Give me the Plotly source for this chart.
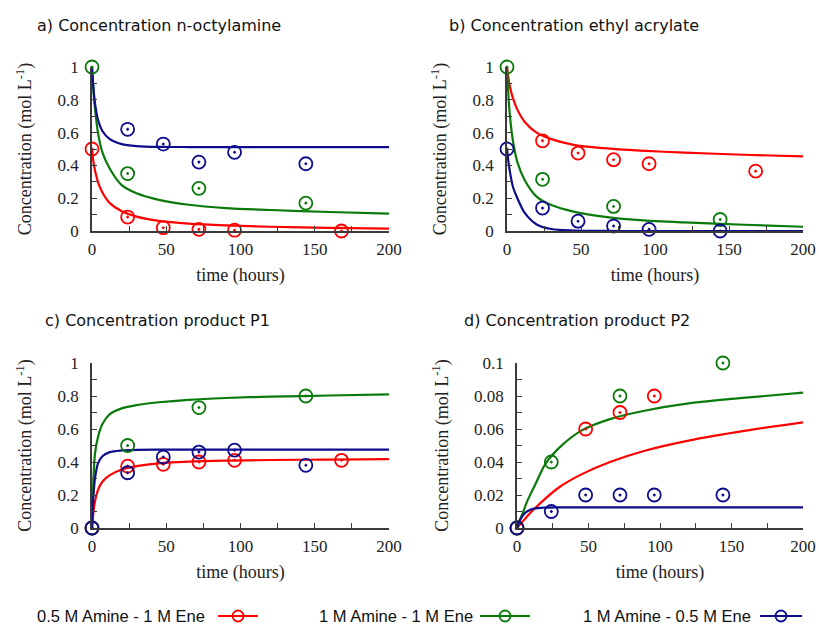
import plotly.graph_objects as go

# ---------------- data ----------------
SERIES = ["0.5 M Amine - 1 M Ene", "1 M Amine - 1 M Ene", "1 M Amine - 0.5 M Ene"]
COLORS = ["#ff0000", "#0a7a0a", "#0c0c8c"]

# fitted-curve sample times (hours)
T_FIT = [0, 1, 2, 4, 7, 12, 20, 30, 45, 65, 90, 120, 160, 200]

# a) n-octylamine
A_RED_T = [0, 24, 48, 72, 96, 168]
A_RED = [0.5, 0.085, 0.02, 0.01, 0.005, 0.0]
A_GREEN_T = [0, 24, 72, 144]
A_GREEN = [1.0, 0.35, 0.26, 0.17]
A_BLUE_T = [24, 48, 72, 96, 144]
A_BLUE = [0.62, 0.53, 0.42, 0.48, 0.41]
A_RED_FIT = [0.5, 0.42, 0.37, 0.30, 0.235, 0.17, 0.12, 0.088, 0.062, 0.045, 0.034, 0.026, 0.019, 0.015]
A_GREEN_FIT = [1.0, 0.85, 0.75, 0.6, 0.48, 0.38, 0.28, 0.23, 0.19, 0.16, 0.14, 0.128, 0.116, 0.106]
A_BLUE_FIT = [1.0, 0.87, 0.78, 0.68, 0.61, 0.56, 0.53, 0.518, 0.513, 0.512, 0.512, 0.512, 0.512, 0.512]

# b) ethyl acrylate
B_RED_T = [24, 48, 72, 96, 168]
B_RED = [0.55, 0.475, 0.435, 0.41, 0.365]
B_GREEN_T = [0, 24, 72, 144]
B_GREEN = [1.0, 0.315, 0.15, 0.07]
B_BLUE_T = [0, 24, 48, 72, 96, 144]
B_BLUE = [0.5, 0.14, 0.06, 0.03, 0.01, 0.0]
B_RED_FIT = [1.0, 0.93, 0.88, 0.81, 0.74, 0.665, 0.6, 0.56, 0.525, 0.505, 0.49, 0.478, 0.465, 0.455]
B_GREEN_FIT = [1.0, 0.82, 0.7, 0.55, 0.42, 0.31, 0.21, 0.158, 0.118, 0.088, 0.066, 0.052, 0.038, 0.026]
B_BLUE_FIT = [0.5, 0.42, 0.36, 0.27, 0.2, 0.11, 0.04, 0.012, 0.003, 0.0005, 0.0, 0.0, 0.0, 0.0]

# c) product P1
C_RED_T = [0, 24, 48, 72, 96, 168]
C_RED = [0.0, 0.375, 0.386, 0.4, 0.41, 0.41]
C_GREEN_T = [0, 24, 72, 144]
C_GREEN = [0.0, 0.5, 0.73, 0.8]
C_BLUE_T = [0, 24, 48, 72, 96, 144]
C_BLUE = [0.0, 0.335, 0.43, 0.46, 0.472, 0.38]
C_RED_FIT = [0.0, 0.1, 0.16, 0.23, 0.28, 0.32, 0.355, 0.375, 0.392, 0.402, 0.408, 0.412, 0.415, 0.417]
C_GREEN_FIT = [0.0, 0.3, 0.45, 0.55, 0.63, 0.69, 0.725, 0.745, 0.762, 0.777, 0.788, 0.796, 0.803, 0.81]
C_BLUE_FIT = [0.0, 0.2, 0.3, 0.39, 0.435, 0.46, 0.47, 0.474, 0.475, 0.475, 0.475, 0.475, 0.475, 0.475]

# d) product P2
D_RED_T = [0, 48, 72, 96]
D_RED = [0.0, 0.06, 0.07, 0.08]
D_GREEN_T = [0, 24, 72, 144]
D_GREEN = [0.0, 0.04, 0.08, 0.1]
D_BLUE_T = [0, 24, 48, 72, 96, 144]
D_BLUE = [0.0, 0.01, 0.02, 0.02, 0.02, 0.02]
D_RED_FIT = [0.0, 0.001, 0.002, 0.004, 0.007, 0.0115, 0.018, 0.025, 0.0325, 0.04, 0.047, 0.053, 0.059, 0.064]
D_GREEN_FIT = [0.0, 0.0025, 0.005, 0.009, 0.016, 0.025, 0.039, 0.049, 0.059, 0.066, 0.0712, 0.0755, 0.079, 0.082]
D_BLUE_FIT = [0.0, 0.0025, 0.0045, 0.0075, 0.010, 0.0118, 0.0124, 0.0125, 0.0125, 0.0125, 0.0125, 0.0125, 0.0125, 0.0125]

TITLES = ["a) Concentration n-octylamine", "b) Concentration ethyl acrylate",
          "c) Concentration product P1", "d) Concentration product P2"]
X_TITLE = "time (hours)"
Y_TITLE = "Concentration (mol L<sup>-1</sup>)"

# ---------------- layout helpers ----------------
W, H = 819, 625
AX = "#3a3a3a"
SERIF = "Liberation Serif"
SANS = "DejaVu Sans"


def px(x):
    return x / W


def py(y):
    return 1 - y / H


PANELS = [
    # (x0, x1, ytop, ybottom) in pixels, y range, dtick, minor
    (92, 389, 67, 231, [0, 1], 0.2, 0.1),
    (507, 803, 67, 231, [0, 1], 0.2, 0.1),
    (92, 389, 363, 528, [0, 1], 0.2, 0.1),
    (517, 803, 363, 528, [0, 0.1], 0.02, 0.01),
]

PANEL_DATA = [
    [(A_RED_T, A_RED, A_RED_FIT), (A_GREEN_T, A_GREEN, A_GREEN_FIT), (A_BLUE_T, A_BLUE, A_BLUE_FIT)],
    [(B_RED_T, B_RED, B_RED_FIT), (B_GREEN_T, B_GREEN, B_GREEN_FIT), (B_BLUE_T, B_BLUE, B_BLUE_FIT)],
    [(C_RED_T, C_RED, C_RED_FIT), (C_GREEN_T, C_GREEN, C_GREEN_FIT), (C_BLUE_T, C_BLUE, C_BLUE_FIT)],
    [(D_RED_T, D_RED, D_RED_FIT), (D_GREEN_T, D_GREEN, D_GREEN_FIT), (D_BLUE_T, D_BLUE, D_BLUE_FIT)],
]

TITLE_POS = [(35, 25), (447, 25), (43, 320), (462, 320)]

fig = go.Figure()
layout = dict(
    width=W, height=H, autosize=False,
    margin=dict(l=0, r=0, t=0, b=0, pad=0, autoexpand=False),
    paper_bgcolor="white", plot_bgcolor="white",
    showlegend=False,
    annotations=[], shapes=[],
)

for i, (x0, x1, yt, yb, yr, dt, mn) in enumerate(PANELS):
    n = "" if i == 0 else str(i + 1)
    xname, yname = "x" + n, "y" + n
    layout["xaxis" + n] = dict(
        domain=[px(x0), px(x1)], range=[0, 200], anchor=yname, automargin=False,
        showline=True, linecolor=AX, linewidth=1.5, mirror=False,
        ticks="inside", ticklen=5, tickwidth=1.3, tickcolor=AX,
        tick0=0, dtick=50,
        minor=dict(dtick=25, ticks="inside", ticklen=5, tickwidth=1.3, tickcolor=AX, showgrid=False),
        showgrid=False, zeroline=False,
        tickfont=dict(family=SERIF, size=17, color="#222"),
        ticklabelstandoff=2,
        title=dict(text=X_TITLE, font=dict(family=SERIF, size=18, color="#222"), standoff=10),
    )
    layout["yaxis" + n] = dict(
        domain=[py(yb), py(yt)], range=yr, anchor=xname, automargin=False,
        showline=True, linecolor=AX, linewidth=1.5, mirror=False,
        ticks="inside", ticklen=5, tickwidth=1.3, tickcolor=AX,
        tick0=0, dtick=dt,
        minor=dict(dtick=mn, ticks="inside", ticklen=5, tickwidth=1.3, tickcolor=AX, showgrid=False),
        showgrid=False, zeroline=False,
        tickfont=dict(family=SERIF, size=17, color="#222"),
        ticklabelstandoff=8,
        title=dict(text=Y_TITLE, font=dict(family=SERIF, size=18, color="#222"), standoff=21),
    )
    for (tt, yy, fit), col in zip(PANEL_DATA[i], COLORS):
        fig.add_trace(go.Scatter(
            x=T_FIT, y=fit, mode="lines", xaxis=xname, yaxis=yname,
            line=dict(color=col, width=2.2, shape="spline", smoothing=0.8),
            hoverinfo="skip",
        ))
    for (tt, yy, fit), col in zip(PANEL_DATA[i], COLORS):
        fig.add_trace(go.Scatter(
            x=tt, y=yy, mode="markers", xaxis=xname, yaxis=yname, cliponaxis=False,
            marker=dict(symbol="circle-open-dot", size=13, color=col, line=dict(width=1.8, color=col)),
        ))
    tx, ty = TITLE_POS[i]
    layout["annotations"].append(dict(
        text=TITLES[i], x=px(tx), y=py(ty), xref="paper", yref="paper",
        xanchor="left", yanchor="middle", showarrow=False,
        font=dict(family=SANS, size=16, color="#111"),
    ))

# ---------------- custom legend (label left of symbol) ----------------
LEG_Y = 616
LEG_ITEMS = [(207, 218, 258), (475, 480, 530), (753, 760, 802)]
for (text_right, lx0, lx1), name, col in zip(LEG_ITEMS, SERIES, COLORS):
    layout["annotations"].append(dict(
        text=name, x=px(text_right), y=py(LEG_Y), xref="paper", yref="paper",
        xanchor="right", yanchor="middle", showarrow=False,
        font=dict(family="Liberation Sans", size=16.5, color="#111"),
    ))
    layout["shapes"].append(dict(
        type="line", xref="paper", yref="paper",
        x0=px(lx0), x1=px(lx1), y0=py(LEG_Y), y1=py(LEG_Y),
        line=dict(color=col, width=2.2),
    ))
    cx = (lx0 + lx1) / 2
    r = 5.5
    layout["shapes"].append(dict(
        type="circle", xref="paper", yref="paper",
        x0=px(cx - r), x1=px(cx + r), y0=py(LEG_Y + r), y1=py(LEG_Y - r),
        line=dict(color=col, width=1.8),
    ))

fig.update_layout(**layout)
fig.write_html(
    "out.html",
    config={"displayModeBar": False},
    post_script="document.body.style.margin='0';document.body.style.padding='0';"
                "document.body.style.overflow='hidden';",
)
